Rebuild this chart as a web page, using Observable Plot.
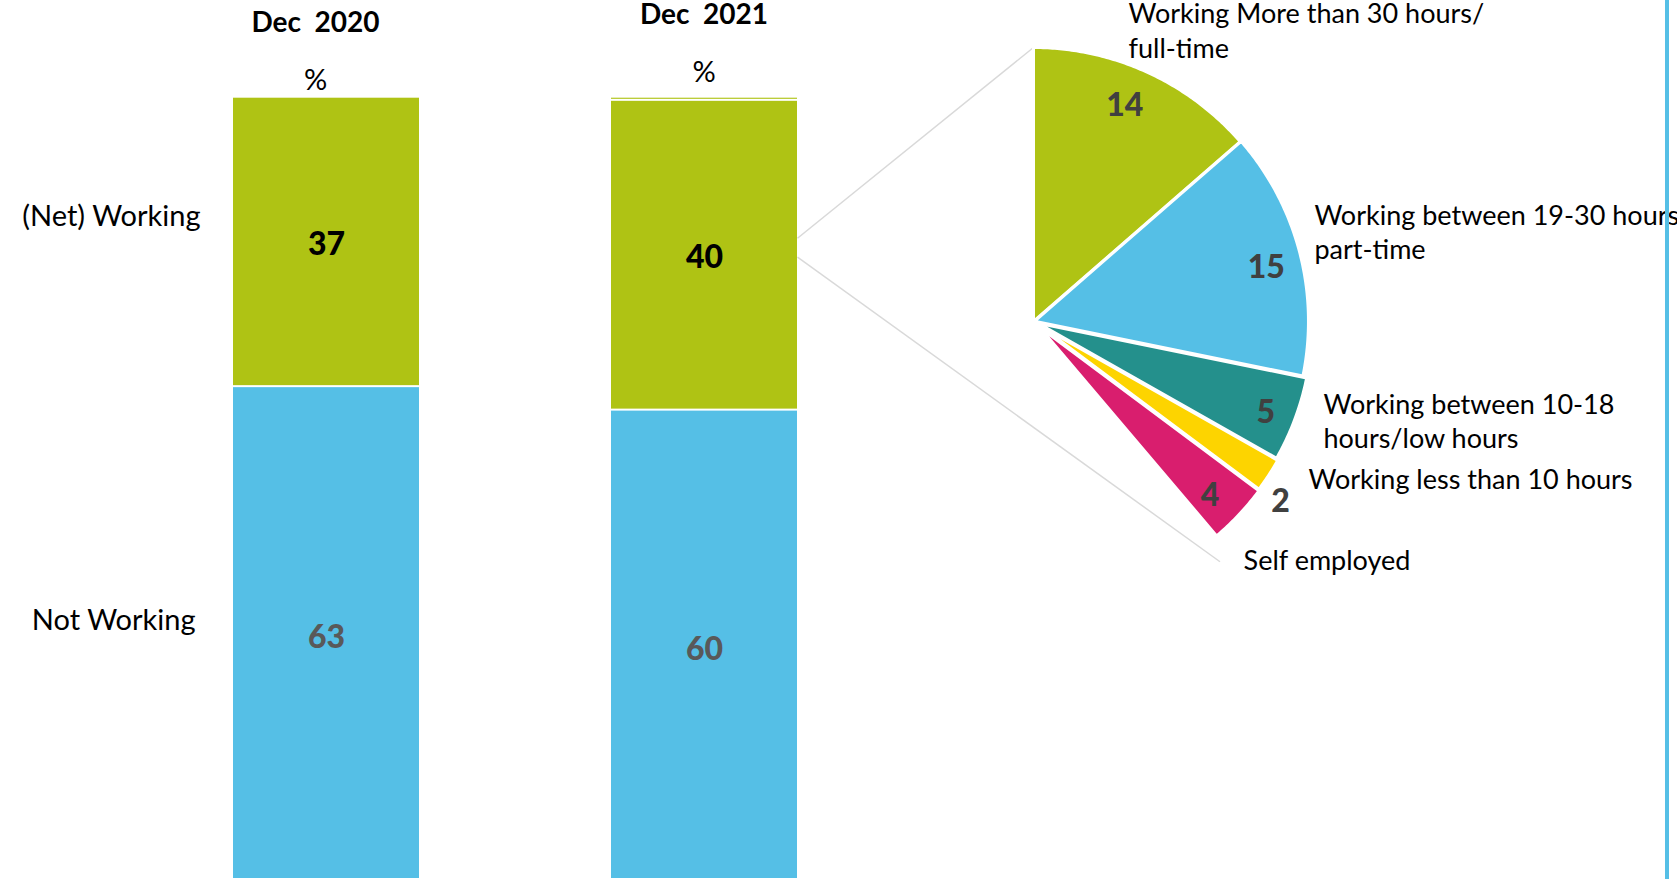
<!DOCTYPE html>
<html>
<head>
<meta charset="utf-8">
<script src="https://cdn.jsdelivr.net/npm/d3@7"></script>
<script src="https://cdn.jsdelivr.net/npm/@observablehq/plot@0.6"></script>
<style>
  html, body { margin: 0; padding: 0; background: #fff; }
  #stage { position: relative; width: 1677px; height: 879px; overflow: hidden; background: #fff; font-family: Lato, sans-serif; }
  #stage svg { position: absolute; left: 0; top: 0; }
  #stage svg text { white-space: pre; }
  #edge { position: absolute; left: 1665px; top: 0; width: 4px; height: 879px; background: #55BFE6; }
</style>
</head>
<body>
<div id="stage"></div>
<script>
// ---------------- DATA ----------------
const periods = ["Dec 2020", "Dec 2021"];
const barCategories = ["Not Working", "(Net) Working", "Other"];
const notWorking = [63, 60];
const netWorking = [37, 39.6];
const other = [0, 0.4];

const pieCategories = [
  "Working More than 30 hours/\nfull-time",
  "Working between 19-30 hours/\npart-time",
  "Working between 10-18\nhours/low hours",
  "Working less than 10 hours",
  "Self employed"
];
const pieValues = [13.6, 14.6, 5.0, 2.0, 3.6];   // % of all respondents (Dec 2021)
const pieTotal = 100;

// ---------------- STYLE / LAYOUT ----------------
const W = 1677, H = 879;
const GREEN = "#AFC314", BLUE = "#55BFE6", TEAL = "#24908C", YELLOW = "#FDD400", MAGENTA = "#D91E6E";
const barColors = [BLUE, GREEN, GREEN];
const pieColors = [GREEN, BLUE, TEAL, YELLOW, MAGENTA];
const FONT = "Lato, sans-serif";
const NUM_WEIGHT = 900;

const headerLayout = {
  "Dec 2020": {dx: -11, titleDy: -74.3, pctDy: -16.7},
  "Dec 2021": {dx: -0.5, titleDy: -82.4, pctDy: -24}
};
const catLayout = {
  "(Net) Working": {dx: -126, dy: -25.4},
  "Not Working": {dx: -131, dy: -12.6}
};

// pie layout
const cx = 1033, cy = 321, R = 274;
const explode = [0, 1, 5, 7, 8];
const labelOffsets = [[-18.5, -73.6], [15, -51.2], [28.7, -30.3], [39.7, -10.1], [4.5, 31]];
const numNudge = [[-8, -3], [0, 3], [3, 0], [-9, 8], [-4, 0]];

// ---------------- BAR CHART ----------------
const barRows = periods.flatMap((p, i) => [
  {period: p, category: barCategories[0], value: notWorking[i]},
  {period: p, category: barCategories[1], value: netWorking[i]},
  {period: p, category: barCategories[2], value: other[i]}
]);

const headerMarks = periods.flatMap(p => {
  const L = headerLayout[p];
  return [
    Plot.text([p], {x: d => d, y: () => 100, text: d => d.replace(" ", "  "), dx: L.dx, dy: L.titleDy,
      fontSize: 28, fontWeight: "bold", fill: "#000", fontFamily: FONT}),
    Plot.text([p], {x: d => d, y: () => 100, text: () => "%", dx: L.dx, dy: L.pctDy,
      fontSize: 29, fill: "#000", fontFamily: FONT})
  ];
});

const catMarks = ["(Net) Working", "Not Working"].map(c =>
  Plot.text(barRows, Plot.filter(d => d.period === periods[0] && d.category === c,
    Plot.stackY({x: "period", y: "value", text: "category", textAnchor: "end",
      dx: catLayout[c].dx, dy: catLayout[c].dy, fontSize: 29, fill: "#000", fontFamily: FONT})))
);

const chartA = Plot.plot({
  width: W, height: H,
  marginTop: 0, marginRight: 0, marginBottom: 0, marginLeft: 0,
  x: {type: "band", domain: periods, range: [233, 797], paddingInner: 0.508, paddingOuter: 0, axis: null},
  y: {domain: [0, 100], range: [H, 96.7], axis: null},
  color: {domain: barCategories, range: barColors},
  style: {background: "transparent", fontFamily: FONT, overflow: "visible"},
  marks: [
    Plot.barY(barRows, {x: "period", y: "value", fill: "category", insetTop: 1, insetBottom: 1}),
    Plot.text(barRows, Plot.filter(d => d.category === "(Net) Working",
      Plot.stackY({x: "period", y: "value", text: d => String(Math.round(d.value)), dy: 3,
        fontSize: 32, fontWeight: NUM_WEIGHT, fill: "#000", fontFamily: FONT}))),
    Plot.text(barRows, Plot.filter(d => d.category === "Not Working",
      Plot.stackY({x: "period", y: "value", text: d => String(Math.round(d.value)), dy: 5,
        fontSize: 32, fontWeight: NUM_WEIGHT, fill: "#595959", fontFamily: FONT}))),
    ...headerMarks,
    ...catMarks
  ]
});

// ---------------- PIE (bar-of-pie breakdown) ----------------
const sxA = chartA.scale("x"), syA = chartA.scale("y");
const bandScale = d3.scaleBand(sxA.domain, sxA.range).paddingInner(sxA.paddingInner ?? 0.508).paddingOuter(sxA.paddingOuter ?? 0).align(sxA.align ?? 0.5);
const linScale = d3.scaleLinear(syA.domain, syA.range);
const xA = v => (sxA.apply ? sxA.apply(v) : bandScale(v));
const bwA = sxA.bandwidth ?? bandScale.bandwidth();
const yA = v => (syA.apply ? syA.apply(v) : linScale(v));

let acc = 0;
const slices = pieValues.map((v, i) => {
  const a0 = acc / pieTotal * 2 * Math.PI; acc += v;
  const a1 = acc / pieTotal * 2 * Math.PI;
  const mid = (a0 + a1) / 2;
  const ox = explode[i] * Math.sin(mid), oy = -explode[i] * Math.cos(mid);
  return {i, cat: pieCategories[i], v, a0, a1, mid, ox, oy};
});

const polyRows = slices.flatMap(s => {
  const pts = [{key: s.cat, x: cx + s.ox, y: cy + s.oy}];
  const n = Math.max(2, Math.ceil((s.a1 - s.a0) / (Math.PI / 360)));
  for (let k = 0; k <= n; k++) {
    const a = s.a0 + (s.a1 - s.a0) * k / n;
    pts.push({key: s.cat, x: cx + s.ox + R * Math.sin(a), y: cy + s.oy - R * Math.cos(a)});
  }
  return pts;
});

const lastAngle = slices[slices.length - 1].a1;
const midWorking2021 = notWorking[1] + netWorking[1] / 2;
const barRight = xA(periods[1]) + bwA;
const connectors = [
  {x1: barRight, y1: yA(midWorking2021) - 17, x2: cx, y2: cy - R},
  {x1: barRight, y1: yA(midWorking2021) + 2,
   x2: cx + 1.11 * R * Math.sin(lastAngle + 2.5 * Math.PI / 180),
   y2: cy - 1.11 * R * Math.cos(lastAngle + 2.5 * Math.PI / 180)}
];

const numPos = s => {
  const r = pieValues[s.i] < 3 ? 1.09 * R : 0.875 * R;
  const [nx, ny] = numNudge[s.i];
  return [cx + s.ox + r * Math.sin(s.mid) + nx, cy + s.oy - r * Math.cos(s.mid) + ny];
};
const labPos = s => {
  const [dx, dy] = labelOffsets[s.i];
  return [cx + s.ox + R * Math.sin(s.mid) + dx, cy + s.oy - R * Math.cos(s.mid) + dy];
};

const chartB = Plot.plot({
  width: W, height: H,
  marginTop: 0, marginRight: 0, marginBottom: 0, marginLeft: 0,
  x: {type: "linear", domain: [0, W], range: [0, W], axis: null},
  y: {type: "linear", domain: [0, H], range: [0, H], axis: null},
  color: {domain: pieCategories, range: pieColors},
  style: {background: "transparent", fontFamily: FONT, overflow: "visible"},
  marks: [
    Plot.link(connectors, {x1: "x1", y1: "y1", x2: "x2", y2: "y2", stroke: "#d9d9d9", strokeWidth: 1.5}),
    Plot.line(polyRows, {x: "x", y: "y", z: "key", fill: "key", stroke: "white", strokeWidth: 3, curve: "linear-closed"}),
    Plot.text(slices, {x: s => numPos(s)[0], y: s => numPos(s)[1], text: s => String(Math.round(s.v)), dy: 5,
      fontSize: 32, fontWeight: NUM_WEIGHT, fill: "#404040", fontFamily: FONT}),
    Plot.text(slices, {x: s => labPos(s)[0], y: s => labPos(s)[1], text: "cat", textAnchor: "start",
      lineAnchor: "top", lineHeight: 1.28, fontSize: 27, fill: "#000", fontFamily: FONT})
  ]
});

const stage = document.getElementById("stage");
stage.appendChild(chartA);
stage.appendChild(chartB);
const edge = document.createElement("div");
edge.id = "edge";
stage.appendChild(edge);
</script>
</body>
</html>
